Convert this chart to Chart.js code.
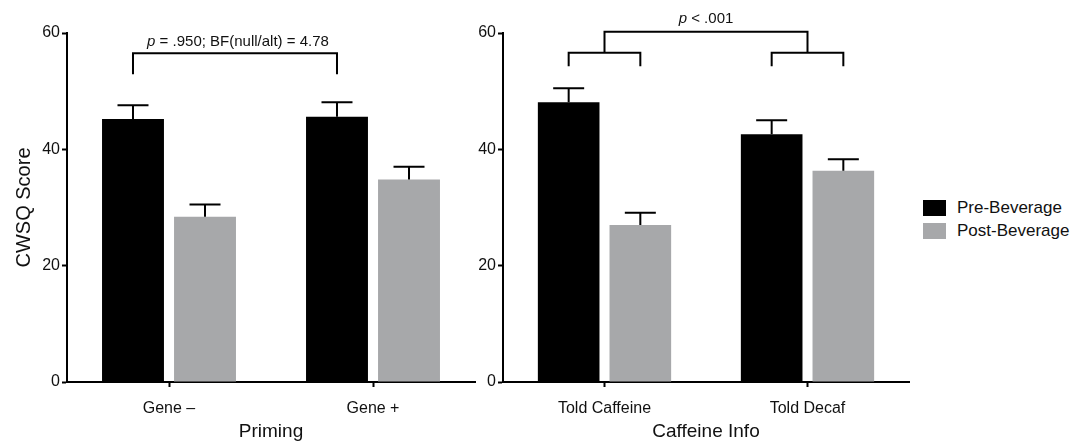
<!DOCTYPE html>
<html>
<head>
<meta charset="utf-8">
<script src="https://cdn.jsdelivr.net/npm/chart.js@4"></script>
<style>
	body { margin: 0; background: #fff; }
	#wrap { position: relative; width: 1084px; height: 443px; font-family: "Liberation Sans", Arial, sans-serif; }
	#left { position: absolute; left: 0; top: 0; }
	#right { position: absolute; left: 470px; top: 0; }
	.key { position: absolute; left: 923px; font-size: 17px; color: #111; }
	.key span { position: absolute; left: 0; width: 23px; height: 16px; }
	.key div { position: absolute; left: 34px; white-space: nowrap; line-height: 16px; }
</style>
</head>
<body>
<div id="wrap">
	<canvas id="left" width="480" height="443"></canvas>
	<canvas id="right" width="450" height="443"></canvas>
	<div class="key" style="top:200px"><span style="background:#000"></span><div>Pre-Beverage</div></div>
	<div class="key" style="top:223px"><span style="background:#a7a8aa"></span><div>Post-Beverage</div></div>
</div>
<script>
const seriesNames = ["Pre-Beverage", "Post-Beverage"];
const yTicks = [0, 20, 40, 60];

const primingGroups = ["Gene –", "Gene +"];
const primingPre = [45.2, 45.6];
const primingPost = [28.4, 34.8];
const primingPreErr = [2.4, 2.5];
const primingPostErr = [2.1, 2.2];

const infoGroups = ["Told Caffeine", "Told Decaf"];
const infoPre = [48.1, 42.6];
const infoPost = [27.0, 36.3];
const infoPreErr = [2.4, 2.4];
const infoPostErr = [2.1, 2.0];

const fontFamily = '"Liberation Sans", Arial, sans-serif';

// one-sided (upper) error bars
const errorBars = {
	id: "errorBars",
	afterDatasetsDraw(chart) {
		const ctx = chart.ctx;
		const yScale = chart.scales.y;
		ctx.save();
		ctx.strokeStyle = "#000";
		ctx.lineWidth = 2;
		chart.data.datasets.forEach((ds, i) => {
			chart.getDatasetMeta(i).data.forEach((bar, j) => {
				const top = yScale.getPixelForValue(ds.data[j] + ds.errors[j]);
				ctx.beginPath();
				ctx.moveTo(bar.x, bar.y);
				ctx.lineTo(bar.x, top);
				ctx.moveTo(bar.x - 15.5, top);
				ctx.lineTo(bar.x + 15.5, top);
				ctx.stroke();
			});
		});
		ctx.restore();
	},
};

// label with an italic leading "p"
drawP = (ctx, rest, cx, baseline) => {
	ctx.font = "italic 15px " + fontFamily;
	const w1 = ctx.measureText("p").width;
	ctx.font = "15px " + fontFamily;
	const w2 = ctx.measureText(rest).width;
	const x0 = cx - (w1 + w2) / 2;
	ctx.fillStyle = "#111";
	ctx.textBaseline = "alphabetic";
	ctx.textAlign = "left";
	ctx.font = "italic 15px " + fontFamily;
	ctx.fillText("p", x0, baseline);
	ctx.font = "15px " + fontFamily;
	ctx.fillText(rest, x0 + w1, baseline);
};

const primingBracket = {
	id: "primingBracket",
	afterDraw(chart) {
		const ctx = chart.ctx;
		const y = chart.scales.y;
		const bars = chart.getDatasetMeta(0).data;
		const yLine = y.getPixelForValue(56.5);
		const yTip = y.getPixelForValue(52.9);
		ctx.save();
		ctx.strokeStyle = "#000";
		ctx.lineWidth = 2;
		ctx.beginPath();
		ctx.moveTo(bars[0].x, yTip);
		ctx.lineTo(bars[0].x, yLine);
		ctx.lineTo(bars[1].x, yLine);
		ctx.lineTo(bars[1].x, yTip);
		ctx.stroke();
		drawP(ctx, " = .950; BF(null/alt) = 4.78", (bars[0].x + bars[1].x) / 2 + 3, yLine - 7);
		ctx.restore();
	},
};

const infoBracket = {
	id: "infoBracket",
	afterDraw(chart) {
		const ctx = chart.ctx;
		const y = chart.scales.y;
		const pre = chart.getDatasetMeta(0).data;
		const post = chart.getDatasetMeta(1).data;
		const yTop = y.getPixelForValue(60.2);
		const yMid = y.getPixelForValue(56.6);
		const yTip = y.getPixelForValue(54.3);
		ctx.save();
		ctx.strokeStyle = "#000";
		ctx.lineWidth = 2;
		const mids = [];
		for (let i = 0; i < 2; i++) {
			ctx.beginPath();
			ctx.moveTo(pre[i].x, yTip);
			ctx.lineTo(pre[i].x, yMid);
			ctx.lineTo(post[i].x, yMid);
			ctx.lineTo(post[i].x, yTip);
			ctx.stroke();
			mids.push((pre[i].x + post[i].x) / 2);
		}
		ctx.beginPath();
		ctx.moveTo(mids[0], yMid);
		ctx.lineTo(mids[0], yTop);
		ctx.lineTo(mids[1], yTop);
		ctx.lineTo(mids[1], yMid);
		ctx.stroke();
		drawP(ctx, " < .001", (mids[0] + mids[1]) / 2, yTop - 9);
		ctx.restore();
	},
};

drawPanel = (canvas, labels, pre, post, preErr, postErr, xTitle, yTitle, yWidth, padRight, plugin) => {
	return new Chart(canvas, {
		type: "bar",
		data: {
			labels: labels,
			datasets: [
				{ label: seriesNames[0], data: pre, errors: preErr, backgroundColor: "#000000" },
				{ label: seriesNames[1], data: post, errors: postErr, backgroundColor: "#a7a8aa" },
			],
		},
		options: {
			responsive: false,
			animation: false,
			events: [],
			datasets: { bar: { categoryPercentage: 0.706, barPercentage: 0.86 } },
			layout: { padding: { top: 33, left: 0, right: padRight, bottom: 0 } },
			plugins: { legend: { display: false }, tooltip: { enabled: false } },
			scales: {
				x: {
					grid: { display: true, drawOnChartArea: false, offset: false, tickLength: 5, tickWidth: 2, tickColor: "#000" },
					border: { display: true, color: "#000", width: 2 },
					ticks: { color: "#111", font: { family: fontFamily, size: 16 }, padding: 12, maxRotation: 0 },
					title: { display: true, text: xTitle, color: "#111", font: { family: fontFamily, size: 19 }, padding: { top: 0, bottom: 0 } },
					afterFit(scale) { scale.height = 61; },
				},
				y: {
					min: 0,
					max: 60,
					afterBuildTicks(scale) { scale.ticks = yTicks.map((v) => ({ value: v })); },
					grid: { display: true, drawOnChartArea: false, tickLength: 5, tickWidth: 2, tickColor: "#000" },
					border: { display: true, color: "#000", width: 2 },
					ticks: { color: "#111", font: { family: fontFamily, size: 16 }, padding: 2 },
					title: { display: yTitle !== "", text: yTitle, color: "#111", font: { family: fontFamily, size: 20 }, padding: { top: 12, bottom: 0 } },
					afterFit(scale) { scale.width = yWidth; },
				},
			},
		},
		plugins: [errorBars, plugin],
	});
};

drawPanel(document.querySelector("#left"), primingGroups, primingPre, primingPost, primingPreErr, primingPostErr,
	"Priming", "CWSQ Score", 67, 5, primingBracket);
drawPanel(document.querySelector("#right"), infoGroups, infoPre, infoPost, infoPreErr, infoPostErr,
	"Caffeine Info", "", 33, 11, infoBracket);
</script>
</body>
</html>
